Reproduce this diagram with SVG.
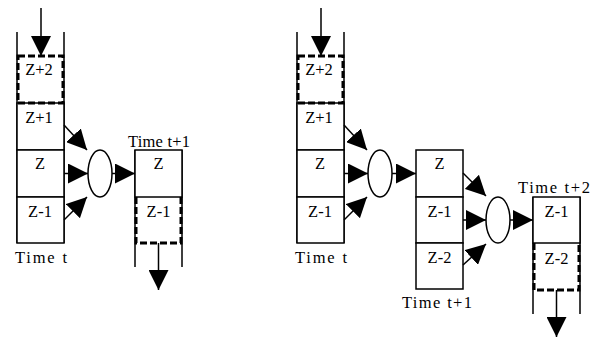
<svg xmlns="http://www.w3.org/2000/svg" width="597" height="339" viewBox="0 0 597 339">
<defs>
<marker id="ah" markerUnits="userSpaceOnUse" markerWidth="21" markerHeight="20" refX="20" refY="10" orient="auto">
<path d="M0,0 L20,10 L0,20 z" fill="#000"/>
</marker>
<style>
.box{fill:#fff;stroke:#000;stroke-width:1.5}
.side{fill:none;stroke:#000;stroke-width:1.5}
.dash{fill:none;stroke:#000;stroke-width:3;stroke-dasharray:7,3}
.ell{fill:#fff;stroke:#000;stroke-width:1.5}
.lbl{text-anchor:middle}
.con{fill:none;stroke:#000;stroke-width:1.5;marker-end:url(#ah)}
</style>
</defs>
<rect width="597" height="339" fill="#fff"/>

<g font-family="'Liberation Serif', 'Times New Roman', serif" font-size="16.5" fill="#000">
<g id="stack1">
<path class="side" d="M17,32 V243 M64,32 V243"/>
<rect class="box" x="17" y="103" width="47" height="47"/>
<rect class="box" x="17" y="150" width="47" height="47"/>
<rect class="box" x="17" y="197" width="47" height="46"/>
<rect class="dash" x="18" y="56" width="45" height="47"/>
<text class="lbl" x="39" y="75">Z+2</text>
<text class="lbl" x="39" y="123">Z+1</text>
<text class="lbl" x="40" y="169">Z</text>
<text class="lbl" x="40" y="217">Z-1</text>
<text x="15" y="263" textLength="52" lengthAdjust="spacing">Time t</text>
</g>
<g id="op1">
<ellipse class="ell" cx="100" cy="173.5" rx="12" ry="23.5"/>
</g>
<g id="out1">
<path class="side" d="M135,150 V267 M182,150 V267"/>
<rect class="box" x="135" y="150" width="47" height="47"/>
<path class="dash" d="M136,197 V243 H181 V197"/>
<text class="lbl" x="158.5" y="169">Z</text>
<text class="lbl" x="158.5" y="217">Z-1</text>
<text x="128" y="147" textLength="62" lengthAdjust="spacing">Time t+1</text>
</g>

<g id="stack2">
<path class="side" d="M297,32 V243 M344,32 V243"/>
<rect class="box" x="297" y="103" width="47" height="47"/>
<rect class="box" x="297" y="150" width="47" height="47"/>
<rect class="box" x="297" y="197" width="47" height="46"/>
<rect class="dash" x="298" y="56" width="45" height="47"/>
<text class="lbl" x="319" y="75">Z+2</text>
<text class="lbl" x="319" y="123">Z+1</text>
<text class="lbl" x="320" y="169">Z</text>
<text class="lbl" x="320" y="217">Z-1</text>
<text x="295" y="263" textLength="52" lengthAdjust="spacing">Time t</text>
</g>
<g id="op2">
<ellipse class="ell" cx="380" cy="173.5" rx="12" ry="23.5"/>
</g>
<g id="mid2">
<rect class="box" x="416" y="150" width="47" height="47"/>
<rect class="box" x="416" y="197" width="47" height="46"/>
<rect class="box" x="416" y="243" width="47" height="46"/>
<text class="lbl" x="439.5" y="169">Z</text>
<text class="lbl" x="439.5" y="217">Z-1</text>
<text class="lbl" x="439.5" y="263">Z-2</text>
<text x="402" y="308" textLength="70" lengthAdjust="spacing">Time t+1</text>
</g>
<g id="op3">
<ellipse class="ell" cx="498" cy="220" rx="12" ry="23"/>
</g>
<g id="out2">
<path class="side" d="M533,197 V314 M580,197 V314"/>
<rect class="box" x="533" y="197" width="47" height="46"/>
<path class="dash" d="M534,243 V290 H579 V243"/>
<text class="lbl" x="556.5" y="217">Z-1</text>
<text class="lbl" x="556.5" y="264">Z-2</text>
<text x="518" y="193" textLength="72" lengthAdjust="spacing">Time t+2</text>
</g>
</g>

<g id="connectors">
<line class="con" x1="41" y1="8" x2="41" y2="56"/>
<line class="con" x1="64" y1="125" x2="87" y2="150"/>
<line class="con" x1="64" y1="173.5" x2="88" y2="173.5"/>
<line class="con" x1="64" y1="220" x2="87" y2="197"/>
<line class="con" x1="112" y1="173.5" x2="135" y2="173.5"/>
<line class="con" x1="158.5" y1="243" x2="158.5" y2="290"/>
<line class="con" x1="321" y1="8" x2="321" y2="56"/>
<line class="con" x1="344" y1="125" x2="367" y2="150"/>
<line class="con" x1="344" y1="173.5" x2="368" y2="173.5"/>
<line class="con" x1="344" y1="220" x2="367" y2="197"/>
<line class="con" x1="392" y1="173.5" x2="416" y2="173.5"/>
<line class="con" x1="463" y1="173" x2="486" y2="196"/>
<line class="con" x1="463" y1="220" x2="486" y2="220"/>
<line class="con" x1="463" y1="265" x2="486" y2="244"/>
<line class="con" x1="510" y1="220" x2="533" y2="220"/>
<line class="con" x1="556.5" y1="290" x2="556.5" y2="337"/>
</g>
</svg>
